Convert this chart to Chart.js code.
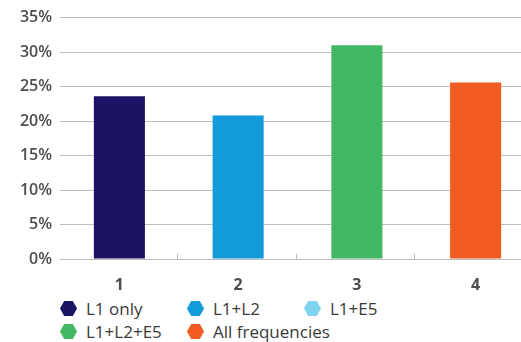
<!DOCTYPE html>
<html>
<head>
<meta charset="utf-8">
<script src="https://cdn.jsdelivr.net/npm/chart.js@4"></script>
<style>
  html, body { margin: 0; padding: 0; background: #fff; overflow: hidden; }
  #wrap { position: relative; width: 535px; height: 295px; }
  #legend {
    position: absolute; left: 60px; top: 298px;
    display: grid; grid-template-columns: 127px 117px auto;
    row-gap: 2px;
    font-family: "Open Sans", sans-serif; font-size: 17px; color: #3a3a3a;
  }
  .item { display: flex; align-items: center; height: 21px; white-space: nowrap; }
  .item svg { margin-right: 9px; flex-shrink: 0; }
</style>
</head>
<body>
<div id="wrap"><canvas id="chart"></canvas></div>
<div id="legend"></div>
<script>
// categories and values (percent)
const categories = ['1', '2', '3', '4'];
const shares = [23.6, 20.8, 31.0, 25.6];
const barColors = ['#1b1464', '#139ad9', '#43b864', '#f25c22'];

// legend entries
const legendLabels = ['L1 only', 'L1+L2', 'L1+E5', 'L1+L2+E5', 'All frequencies'];
const legendColors = ['#1b1464', '#139ad9', '#7dd3f0', '#43b864', '#f25c22'];

const yTicks = [0, 5, 10, 15, 20, 25, 30, 35];

// small tick marks between the categories, standing on the zero line
const categoryTicks = {
    id: 'categoryTicks',
    afterDraw(chart) {
        const x = chart.scales.x;
        const y = chart.scales.y;
        const ctx = chart.ctx;
        const base = Math.round(y.getPixelForValue(0)) + 0.5;
        ctx.save();
        ctx.strokeStyle = '#bdbdbd';
        ctx.lineWidth = 1;
        for (let i = 0; i < categories.length - 1; i++) {
            const px = Math.round((x.getPixelForValue(i) + x.getPixelForValue(i + 1)) / 2) - 1.5;
            ctx.beginPath();
            ctx.moveTo(px, base - 6);
            ctx.lineTo(px, base);
            ctx.stroke();
        }
        ctx.restore();
    },
};

new Chart(document.getElementById('chart'), {
    type: 'bar',
    data: {
        labels: categories,
        datasets: [
            {
                data: shares,
                backgroundColor: barColors,
                barPercentage: 0.43,
                categoryPercentage: 1,
            },
        ],
    },
    options: {
        responsive: true,
        maintainAspectRatio: false,
        animation: false,
        layout: { padding: { top: 17, left: 0, right: 0, bottom: 0 } },
        scales: {
            x: {
                grid: { display: false },
                border: { display: false },
                ticks: {
                    padding: 9,
                    color: '#4d4d4d',
                    font: { family: 'Open Sans', size: 16, weight: 700 },
                },
                afterFit(scale) { scale.height = 36; },
            },
            y: {
                min: 0,
                max: 35,
                afterBuildTicks(scale) { scale.ticks = yTicks.map(v => ({ value: v })); },
                grid: { color: '#bdbdbd', lineWidth: 1, drawTicks: false },
                border: { display: false },
                ticks: {
                    padding: 8,
                    color: '#4d4d4d',
                    font: { family: 'Open Sans', size: 16, weight: 600 },
                    callback: v => v + '%',
                },
                afterFit(scale) { scale.width = 60; },
            },
        },
        plugins: {
            legend: { display: false },
            tooltip: { enabled: false },
        },
    },
    plugins: [categoryTicks],
});

// html legend with hexagon markers
const legend = document.getElementById('legend');
legendLabels.forEach((label, i) => {
    const item = document.createElement('div');
    item.className = 'item';
    item.innerHTML =
        '<svg width="17" height="15" viewBox="0 0 17 15">' +
        '<polygon points="0,7.5 4.2,0 12.8,0 17,7.5 12.8,15 4.2,15" fill="' + legendColors[i] + '"/></svg>' +
        '<span>' + label + '</span>';
    legend.appendChild(item);
});
</script>
</body>
</html>
